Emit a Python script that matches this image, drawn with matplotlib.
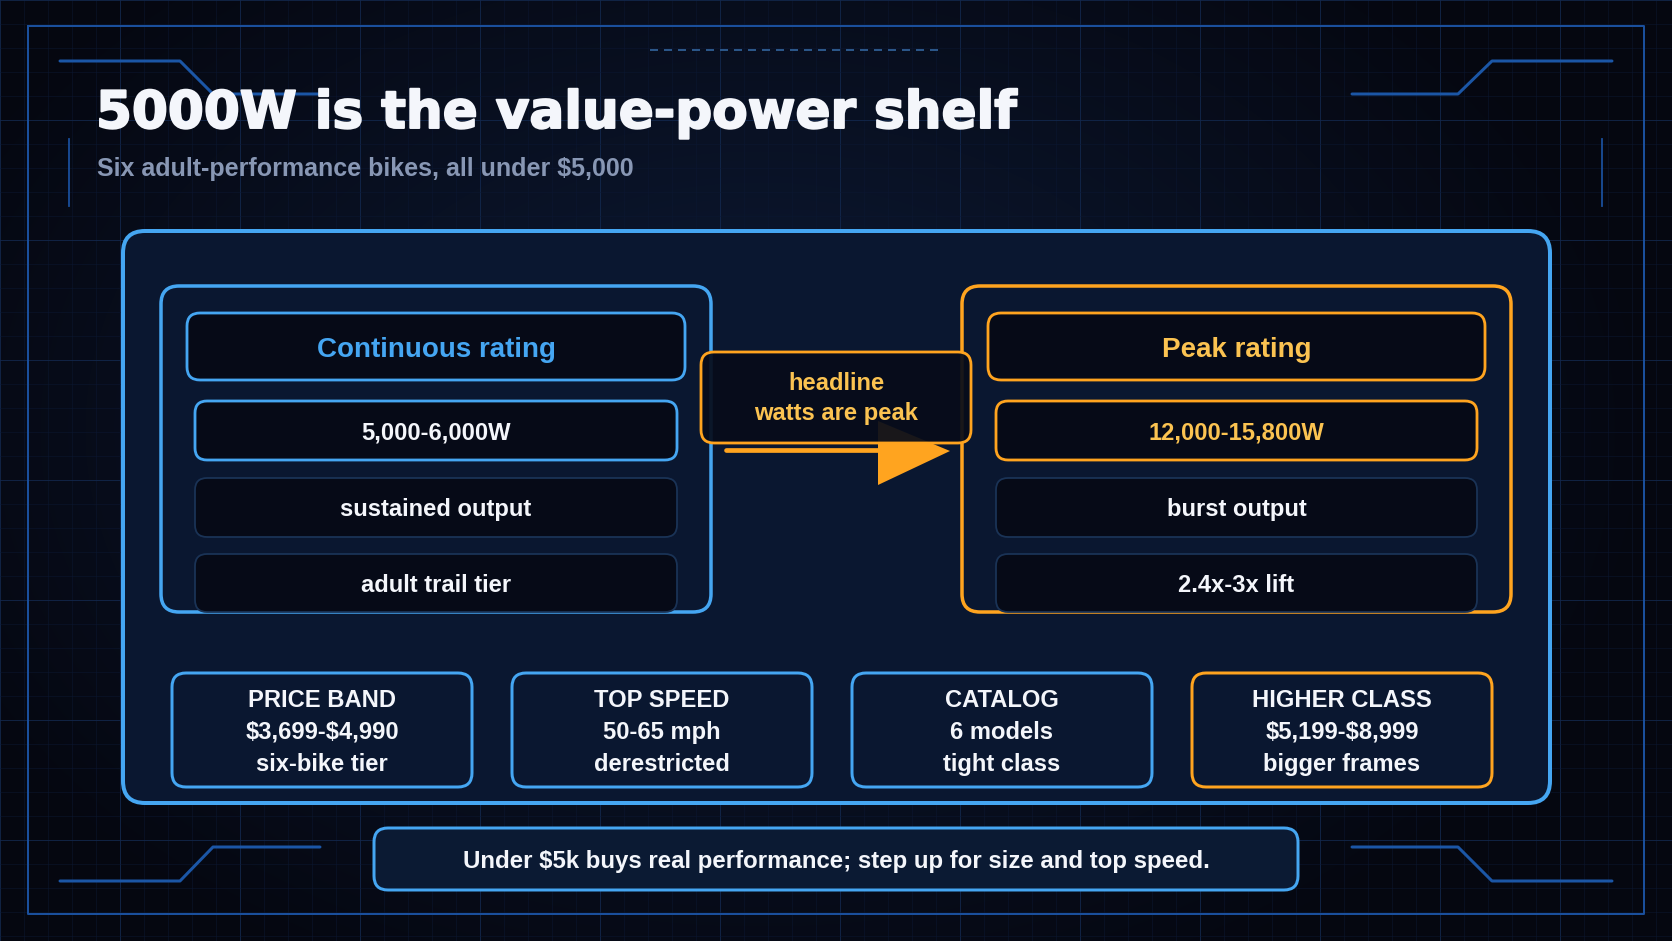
import numpy as np
import matplotlib
matplotlib.use("Agg")
import matplotlib.pyplot as plt
import matplotlib.patheffects as pe
from matplotlib.patches import FancyBboxPatch, Polygon

# ---- chart content ----
title = "5000W is the value-power shelf"
subtitle = "Six adult-performance bikes, all under $5,000"

left_header = "Continuous rating"
left_rows = ["5,000-6,000W", "sustained output", "adult trail tier"]
right_header = "Peak rating"
right_rows = ["12,000-15,800W", "burst output", "2.4x-3x lift"]

callout_lines = ["headline", "watts are peak"]

card_titles = ["PRICE BAND", "TOP SPEED", "CATALOG", "HIGHER CLASS"]
card_values = ["$3,699-$4,990", "50-65 mph", "6 models", "$5,199-$8,999"]
card_notes = ["six-bike tier", "derestricted", "tight class", "bigger frames"]
highlight_card = "HIGHER CLASS"

footer = "Under $5k buys real performance; step up for size and top speed."

# ---- styling ----
W, H = 1672, 941
BLUE = "#45a6f2"
ORANGE = "#ffa41f"
AMBER = "#fbc351"
WHITE = "#f4f6fb"
PANEL = "#0a1730"
INNER = "#060a17"
DIM = "#1a3356"
LINE = "#1b56a6"
FONT = "Liberation Sans"

PX = 0.72  # points per pixel at dpi 100

fig = plt.figure(figsize=(W / 100, H / 100), dpi=100)
ax = fig.add_axes([0, 0, 1, 1])
ax.set_xlim(0, W)
ax.set_ylim(H, 0)
ax.axis("off")

# background glow
yy, xx = np.mgrid[0:H, 0:W]
d = np.sqrt(((xx - 760) / 900) ** 2 + ((yy - 430) / 620) ** 2)
t = np.clip(d, 0, 1)[..., None]
inner_c = np.array([0x0d, 0x1b, 0x37]) / 255
outer_c = np.array([0x05, 0x07, 0x10]) / 255
bg = inner_c * (1 - t) + outer_c * t
ax.imshow(bg, extent=(0, W, H, 0), zorder=0, interpolation="bilinear")

# grid
for gx in range(0, W + 1, 24):
    major = gx % 120 == 0
    ax.plot([gx, gx], [0, H], color="#13294f" if major else "#0c1833",
            lw=(1.0 if major else 0.6) * PX, alpha=0.8, zorder=1)
for gy in range(0, H + 1, 24):
    major = gy % 120 == 0
    ax.plot([0, W], [gy, gy], color="#13294f" if major else "#0c1833",
            lw=(1.0 if major else 0.6) * PX, alpha=0.8, zorder=1)

# frame and decorations
ax.plot([28, 1644, 1644, 28, 28], [26, 26, 914, 914, 26], color="#1a4f9c",
        lw=2 * PX, zorder=2)
ax.plot([650, 940], [50, 50], color="#2b5688", lw=2 * PX,
        linestyle=(0, (4, 3)), zorder=2)
deco = dict(color=LINE, lw=3 * PX, zorder=2, solid_capstyle="round")
ax.plot([60, 180, 213, 318], [61, 61, 94, 94], **deco)
ax.plot([1612, 1492, 1458, 1352], [61, 61, 94, 94], **deco)
ax.plot([60, 180, 213, 320], [881, 881, 847, 847], **deco)
ax.plot([1612, 1492, 1458, 1352], [881, 881, 847, 847], **deco)
ax.plot([69, 69], [139, 206], color="#1a4f9c", lw=1.8 * PX, zorder=2)
ax.plot([1602, 1602], [139, 206], color="#1a4f9c", lw=1.8 * PX, zorder=2)


def rbox(x0, y0, x1, y1, r, fc, ec, lw, z, alpha=1.0):
    p = FancyBboxPatch((x0, y0), x1 - x0, y1 - y0,
                       boxstyle=f"round,pad=0,rounding_size={r}",
                       fc=fc, ec=ec, lw=lw * PX, zorder=z, alpha=alpha)
    ax.add_patch(p)
    return p


def label(x, y, s, size, color=WHITE, family=FONT, z=10):
    ax.text(x, y, s, fontsize=size, color=color, family=family,
            fontweight="bold", ha="center", va="baseline", zorder=z,
            parse_math=False)


# title
ax.text(96, 128, title, fontsize=37.2, color=WHITE, family="DejaVu Sans",
        fontweight="bold", ha="left", va="baseline", zorder=10,
        parse_math=False,
        path_effects=[pe.withStroke(linewidth=1.4, foreground=WHITE)])
ax.text(97, 176, subtitle, fontsize=18, color="#8897b4", family=FONT,
        fontweight="bold", ha="left", va="baseline", zorder=10,
        parse_math=False)

# main panel
rbox(123, 231, 1550, 803, 22, PANEL, BLUE, 4, 3)


def side_panel(x0, x1, accent, text_c, header, rows):
    rbox(x0, 286, x1, 612, 18, PANEL, accent, 3.5, 4)
    rbox(x0 + 26, 313, x1 - 26, 380, 13, INNER, accent, 2.8, 5)
    label((x0 + x1) / 2, 357, header, 20, color=text_c)
    tops = [401, 478, 554]
    for i, txt in enumerate(rows):
        y0 = tops[i]
        y1 = y0 + 59 if i < 2 else 612
        if i == 0:
            rbox(x0 + 34, y0, x1 - 34, y1, 12, INNER, accent, 2.8, 5)
            c = text_c if accent == ORANGE else WHITE
        else:
            rbox(x0 + 34, y0, x1 - 34, y1, 12, INNER, DIM, 1.8, 5)
            c = WHITE
        label((x0 + x1) / 2, (y0 + y1) / 2 + 8.5, txt, 17.1, color=c)


side_panel(161, 711, BLUE, BLUE, left_header, left_rows)
side_panel(962, 1511, ORANGE, AMBER, right_header, right_rows)

# arrow + callout
ax.plot([726, 885], [450, 450], color=ORANGE, lw=4.7 * PX,
        solid_capstyle="round", zorder=7)
ax.add_patch(Polygon([[878, 421], [950, 451], [878, 485]], closed=True,
                     fc=ORANGE, ec="none", zorder=7))
rbox(701, 352, 971, 443, 13, "#070c1a", "none", 0, 8, alpha=0.93)
rbox(701, 352, 971, 443, 13, "none", ORANGE, 2.8, 9)
label(836, 390, callout_lines[0], 17.1, color=AMBER)
label(836, 420, callout_lines[1], 17.1, color=AMBER)

# bottom cards
for i, (ct, cv, cn) in enumerate(zip(card_titles, card_values, card_notes)):
    x0 = 172 + i * 340
    x1 = x0 + 300
    ec = ORANGE if ct == highlight_card else BLUE
    rbox(x0, 673, x1, 787, 14, PANEL, ec, 3, 5)
    cx = (x0 + x1) / 2
    label(cx, 707, ct, 17.1)
    label(cx, 739, cv, 17.1)
    label(cx, 771, cn, 17.1)

# footer
rbox(374, 828, 1298, 890, 14, "#0b1a33", BLUE, 3, 5)
label(836, 868, footer, 17.3)

fig.savefig("out.png", dpi=100, facecolor="#060912")
